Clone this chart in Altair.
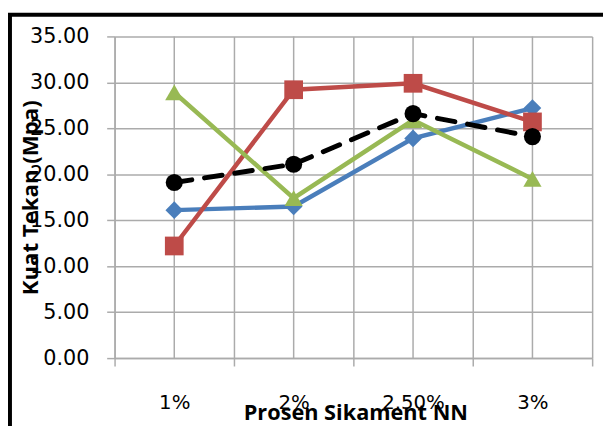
import altair as alt
import pandas as pd

categories = ["1%", "2%", "2.50%", "3%"]
series_names = ["3 hari", "7 hari", "28 hari", "Rata-rata"]
hari3 = [16.1, 16.5, 23.9, 27.2]
hari7 = [12.2, 29.2, 29.9, 25.7]
hari28 = [28.9, 17.4, 25.9, 19.5]
rata = [19.1, 21.1, 26.6, 24.1]
y_ticks = [0, 5, 10, 15, 20, 25, 30, 35]
legend_shown = ["3 hari", "7 hari"]

colors = ["#4A7EBB", "#BE4B48", "#98B954", "#000000"]
shapes = ["diamond", "square", "triangle-up", "circle"]
sizes = [320, 360, 340, 300]
legend_paths = [
    "M-3.45,-0.6H3.45M0,-0.92L0.32,-0.6L0,-0.28L-0.32,-0.6Z",
    "M-3.45,-0.6H3.45M-0.4,-1.0H0.4V-0.2H-0.4Z",
    "M-3.45,-0.6H3.45M0,-1.0L0.4,-0.25H-0.4Z",
    "M-3.45,-0.6H3.45M0,-1.0L0.4,-0.6L0,-0.2L-0.4,-0.6Z",
]

rows = []
for name, vals in zip(series_names, [hari3, hari7, hari28, rata]):
    for c, v in zip(categories, vals):
        rows.append({"pct": c, "series": name, "val": v})
df = pd.DataFrame(rows)

GRID = "#ababab"

x_axis = alt.Axis(
    title="Prosen Sikament NN", tickBand="extent", grid=True, gridColor=GRID,
    gridWidth=1.5, domainColor=GRID, domainWidth=1.5, tickColor=GRID,
    tickWidth=1.5, tickSize=8, labelAngle=0, labelFont="DejaVu Sans",
    labelFontSize=20, labelColor="black", labelBaseline="alphabetic",
    labelPadding=43, titleFont="Open Sans", titleFontSize=22,
    titleFontWeight="bold", titleColor="black", titleX=244, titleY=62,
    titleBaseline="alphabetic", titleAlign="center",
)
x_enc = alt.X(
    "pct:N", sort=categories,
    scale=alt.Scale(domain=categories, paddingInner=0, paddingOuter=0),
    axis=x_axis,
)
y_axis = alt.Axis(
    values=y_ticks, format=".2f", title="Kuat Tekan (Mpa)", grid=True,
    gridColor=GRID, gridWidth=1.5, domainColor=GRID, domainWidth=1.5,
    tickColor=GRID, tickWidth=1.5, tickSize=8, labelPadding=18,
    labelFont="DejaVu Sans", labelFontSize=21, labelColor="black",
    titleFont="Open Sans", titleFontSize=22.5, titleFontWeight="bold",
    titleColor="black", titleAngle=270, titleX=-78, titleY=163,
    titleBaseline="alphabetic", titleAlign="center",
)
y_enc = alt.Y("val:Q", scale=alt.Scale(domain=[0, 35], nice=False), axis=y_axis)
color_scale = alt.Scale(domain=series_names, range=colors)

frame = alt.Chart(alt.Data(values=[{"k": 0}])).mark_rect(
    fill="white", fillOpacity=0, stroke="black", strokeWidth=4
).encode(x=alt.value(-106), x2=alt.value(900), y=alt.value(-22), y2=alt.value(900))

center_rules = alt.Chart(pd.DataFrame({"pct": categories})).mark_rule(
    color=GRID, strokeWidth=1.5
).encode(x=x_enc)

layers = [frame, center_rules]
for i, name in enumerate(series_names):
    base = alt.Chart(df).transform_filter(alt.datum.series == name)
    line_kwargs = dict(strokeWidth=4.5)
    if name == "Rata-rata":
        line_kwargs.update(strokeDash=[18, 13], strokeCap="round", strokeWidth=5)
    line = base.mark_line(**line_kwargs).encode(
        x=x_enc, y=y_enc, color=alt.Color("series:N", scale=color_scale, legend=None)
    )
    pts = base.mark_point(filled=True, shape=shapes[i], size=sizes[i], opacity=1).encode(
        x=x_enc, y=y_enc, color=alt.Color("series:N", scale=color_scale, legend=None)
    )
    layers += [line, pts]

leg = alt.Legend(
    values=legend_shown, title=None, orient="none", legendX=257, legendY=195,
    padding=8, fillColor="#d9d9d9", strokeColor="#4f81bd", cornerRadius=0,
    symbolSize=400, symbolStrokeWidth=4, symbolOffset=25, labelOffset=55,
    symbolOpacity=1,
    labelFont="Open Sans", labelFontSize=17, labelColor="black", rowPadding=30,
)
legend_layer = alt.Chart(df).mark_point(filled=True, opacity=0).encode(
    x=x_enc, y=y_enc,
    fill=alt.Fill("series:N", scale=alt.Scale(domain=series_names, range=colors), legend=leg),
    stroke=alt.Stroke("series:N", scale=alt.Scale(domain=series_names, range=colors), legend=leg),
    shape=alt.Shape("series:N", scale=alt.Scale(domain=series_names, range=legend_paths), legend=leg),
)
layers.append(legend_layer)

chart = alt.layer(*layers).properties(
    width=484, height=326,
    padding={"left": 108, "top": 26, "right": 11, "bottom": 66},
    autosize=alt.AutoSizeParams(type="none"),
    background="white",
).configure_view(strokeWidth=0)

chart.save("out.html", embed_options={"renderer": "svg", "actions": False})
